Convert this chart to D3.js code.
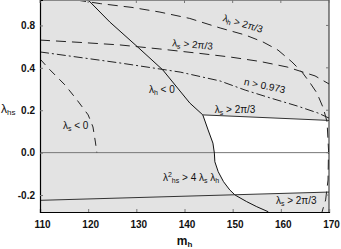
<!DOCTYPE html>
<html>
<head>
<meta charset="utf-8">
<script src="https://cdnjs.cloudflare.com/ajax/libs/d3/7.8.5/d3.min.js"></script>
<style>
  body { margin: 0; background: #fff; }
  text { font-family: "Liberation Sans", Arial, sans-serif; }
</style>
</head>
<body>
<div id="chart"></div>
<script>
// axis ticks
var xTicks = [110, 120, 130, 140, 150, 160, 170];
var yTicks = [0.6, 0.4, 0.2, 0.0, -0.2];
var yTickLabels = ["0.8", "0.4", "0.2", "0.0", "-0.2"];

// solid boundary: lambda_h < 0 and lambda_hs^2 > 4 lambda_s lambda_h
var solidCurve = [[120.0, 0.720], [124.5, 0.616], [130.3, 0.498], [135.5, 0.390], [141.1, 0.234],
  [143.8, 0.178], [144.9, 0.107], [145.9, 0.045], [146.2, -0.002], [146.3, -0.043],
  [147.0, -0.090], [148.1, -0.137], [149.4, -0.176], [150.5, -0.200], [152.9, -0.231],
  [155.0, -0.255], [157.4, -0.279]];

// lambda_s > 2pi/3, upper and lower solid lines
var lamSUpper = [[143.8, 0.178], [170.0, 0.152]];
var lamSLower = [[110.0, -0.225], [170.0, -0.186]];

// dashed lambda_h > 2pi/3
var lamHDash = [[117.5, 0.720], [122.5, 0.703], [129.1, 0.685], [134.9, 0.663], [141.1, 0.633],
  [147.4, 0.588], [152.6, 0.555], [156.3, 0.522], [159.4, 0.484], [162.3, 0.428],
  [164.4, 0.380], [166.1, 0.328], [167.5, 0.281], [168.8, 0.211], [169.6, 0.145],
  [169.9, 0.012], [169.8, -0.129], [169.3, -0.223], [168.55, -0.280]];

// dashed lambda_s > 2pi/3 (upper)
var lamSDash = [[110.0, 0.531], [118.3, 0.520], [126.6, 0.508], [134.9, 0.489], [143.2, 0.468],
  [149.5, 0.451], [155.7, 0.430], [161.3, 0.404], [164.6, 0.380], [167.1, 0.362], [170.0, 0.324]];

// dash-dot n > 0.973
var nDashDot = [[110.0, 0.475], [126.6, 0.423], [139.1, 0.380], [147.4, 0.338], [152.6, 0.295],
  [157.8, 0.258], [163.4, 0.220], [167.7, 0.187], [170.0, 0.163]];

// dashed lambda_s < 0
var lamSNeg = [[110.0, 0.442], [111.7, 0.399], [115.2, 0.319], [117.7, 0.248], [120.0, 0.178],
  [121.0, 0.121], [121.5, 0.050], [121.8, 0.001]];

var W = 341, H = 249;
var pL = 40, pR = 329, pT = 0, pB = 212;

var svg = d3.select("#chart").append("svg")
  .attr("width", W).attr("height", H);

var x = d3.scaleLinear().domain([110, 170]).range([pL, pR]);
var y = d3.scaleLinear().domain([-0.28, 0.72]).range([pB, pT]);

var line = d3.line().x(function (d) { return x(d[0]); }).y(function (d) { return y(d[1]); });

svg.append("defs").append("clipPath").attr("id", "clip")
  .append("rect").attr("x", pL).attr("y", pT)
  .attr("width", pR - pL).attr("height", pB - pT);

var plot = svg.append("g").attr("clip-path", "url(#clip)");

// grey background
plot.append("rect").attr("x", pL).attr("y", pT)
  .attr("width", pR - pL).attr("height", pB - pT)
  .attr("fill", "#e3e3e3");

// white allowed region
var inner = solidCurve.filter(function (d) { return d[1] <= 0.178 && d[1] >= -0.2; });
var region = lamSUpper.concat([lamSLower[1]]).concat(inner.slice().reverse());
plot.append("path").attr("d", line(region) + "Z").attr("fill", "#fff");

// zero line
plot.append("line").attr("x1", pL).attr("x2", pR)
  .attr("y1", y(0)).attr("y2", y(0))
  .attr("stroke", "#777").attr("stroke-width", 1);

function curve(data, dash, color) {
  plot.append("path").attr("d", line(data))
    .attr("fill", "none").attr("stroke", color || "#222")
    .attr("stroke-width", 1)
    .attr("stroke-dasharray", dash || null);
}

curve(solidCurve, null, "#111");
curve(lamSUpper, null, "#333");
curve(lamSLower, null, "#333");
curve(lamHDash, "10,6");
curve(lamSDash, "10,6");
curve(nDashDot, "9,3,2,3");
curve(lamSNeg, "8,6");

// frame
svg.append("line").attr("x1", pL).attr("x2", pR).attr("y1", 0.5).attr("y2", 0.5)
  .attr("stroke", "#888");
svg.append("line").attr("x1", pR).attr("x2", pR).attr("y1", pT).attr("y2", pB)
  .attr("stroke", "#222");

// axes with inward ticks
var xAxis = svg.append("g").attr("transform", "translate(0," + pB + ")")
  .call(d3.axisBottom(x).tickValues(xTicks).tickSize(-3).tickPadding(9).tickFormat(d3.format("d")));
var yAxis = svg.append("g").attr("transform", "translate(" + pL + ",0)")
  .call(d3.axisLeft(y).tickValues(yTicks).tickSize(-3).tickPadding(5)
    .tickFormat(function (d, i) { return yTickLabels[i]; }));

[xAxis, yAxis].forEach(function (g) {
  g.select(".domain").attr("stroke", "#000").attr("stroke-width", 1.2);
  g.selectAll(".tick line").attr("stroke", "#777");
  g.selectAll(".tick text").attr("font-size", "10px").attr("font-weight", "bold")
    .attr("fill", "#111").style("font-family", "Liberation Sans, Arial, sans-serif");
});
xAxis.selectAll(".tick text").attr("dx", "2");

// top and right ticks
svg.append("g").selectAll("line").data(xTicks).enter().append("line")
  .attr("x1", function (d) { return x(d); }).attr("x2", function (d) { return x(d); })
  .attr("y1", pT).attr("y2", pT + 3).attr("stroke", "#777");
svg.append("g").selectAll("line").data(yTicks).enter().append("line")
  .attr("y1", function (d) { return y(d); }).attr("y2", function (d) { return y(d); })
  .attr("x1", pR).attr("x2", pR - 3).attr("stroke", "#777");

// labels
function label(mx, vy, rot, anchor, parts, size) {
  var t = svg.append("text")
    .attr("transform", "translate(" + x(mx) + "," + y(vy) + ") rotate(" + rot + ")")
    .attr("text-anchor", anchor)
    .attr("font-size", (size || 10) + "px")
    .attr("fill", "#111");
  parts.forEach(function (p) {
    var s = t.append("tspan").text(p[0]);
    if (p[1] === "sub") s.attr("font-size", "7px").attr("dy", "2");
    else if (p[1] === "sup") s.attr("font-size", "7px").attr("dy", "-4");
    else if (p[1] === "back") s.attr("dy", "-2");
    else if (p[1] === "supsub") s.attr("font-size", "7px").attr("dy", "6");
  });
  return t;
}

label(151.9, 0.593, 17, "middle", [["λ"], ["h", "sub"], [" > 2π/3", "back"]]);
label(141.6, 0.494, 5, "middle", [["λ"], ["s", "sub"], [" > 2π/3", "back"]]);
label(156.5, 0.300, 12, "middle", [["n > 0.973"]]);
label(135.3, 0.281, 0, "middle", [["λ"], ["h", "sub"], [" < 0", "back"]]);
label(150.5, 0.187, 0, "middle", [["λ"], ["s", "sub"], [" > 2π/3", "back"]]);
label(147.2, -0.134, 0, "end", [["λ"], ["2", "sup"], ["hs", "supsub"], [" > 4 λ", "back"], ["s", "sub"], [" λ", "back"], ["h", "sub"]]);
label(163.2, -0.242, 0, "middle", [["λ"], ["s", "sub"], [" > 2π/3", "back"]]);
label(117.4, 0.111, 0, "middle", [["λ"], ["s", "sub"], [" < 0", "back"]]);

// axis titles
var xt = svg.append("text").attr("x", (pL + pR) / 2).attr("y", 245)
  .attr("text-anchor", "middle").attr("font-size", "12px").attr("font-weight", "bold").attr("fill", "#111");
xt.append("tspan").text("m");
xt.append("tspan").text("h").attr("font-size", "8px").attr("dy", "2");

var yt = svg.append("text").attr("x", 1).attr("y", 113)
  .attr("font-size", "12px").attr("fill", "#111");
yt.append("tspan").text("λ");
yt.append("tspan").text("hs").attr("font-size", "8px").attr("dy", "2");
</script>
</body>
</html>
